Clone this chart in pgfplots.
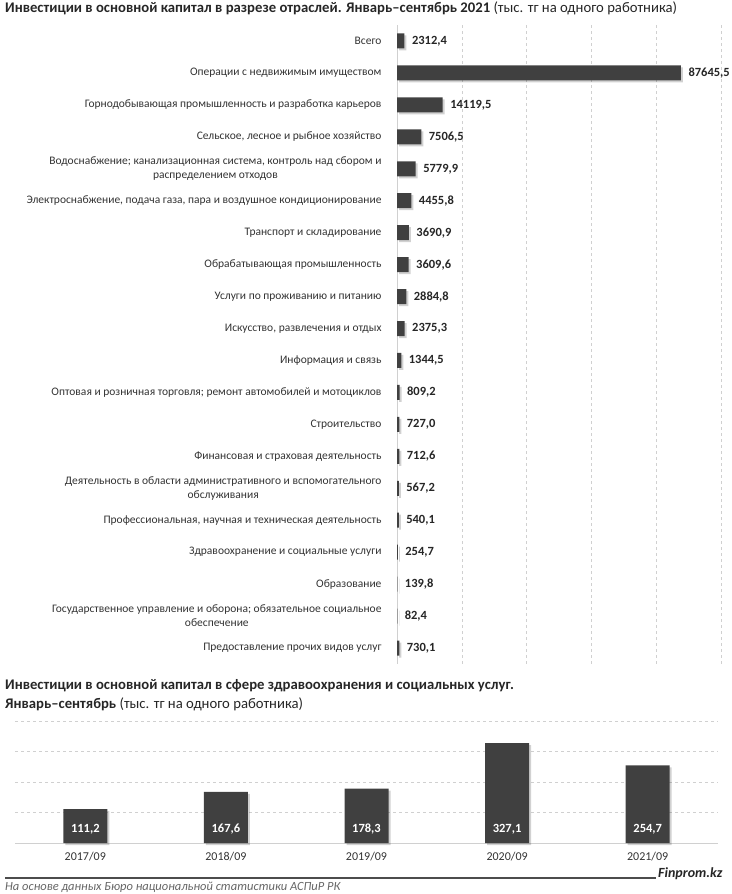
\documentclass[border=0pt]{standalone}
\usepackage{pgfplots}
\pgfplotsset{compat=1.18}
\usepackage{pgfplotstable}
\usepackage{fontspec}
\setmainfont{Carlito}
\usetikzlibrary{shadows}
\definecolor{bar}{HTML}{404040}
\definecolor{txt}{HTML}{262626}
\definecolor{lbl}{HTML}{333333}
\definecolor{grid}{HTML}{D0D0D0}

\pgfplotstableread{
x y lab
2312.4 0 2312,4
87645.5 1 87645,5
14119.5 2 14119,5
7506.5 3 7506,5
5779.9 4 5779,9
4455.8 5 4455,8
3690.9 6 3690,9
3609.6 7 3609,6
2884.8 8 2884,8
2375.3 9 2375,3
1344.5 10 1344,5
809.2 11 809,2
727.0 12 727,0
712.6 13 712,6
567.2 14 567,2
540.1 15 540,1
254.7 16 254,7
139.8 17 139,8
82.4 18 82,4
730.1 19 730,1
}\sectors

\pgfplotstableread{
x y zero lab
0 111.2 0 111,2
1 167.6 0 167,6
2 178.3 0 178,3
3 327.1 0 327,1
4 254.7 0 254,7
}\health

\begin{document}
\begin{tikzpicture}
\path[use as bounding box] (0,0) rectangle (731pt,-894pt);

\node[anchor=west, inner sep=0, font=\fontsize{14.7}{17}\selectfont, text=txt] at (5pt,-8pt)
  {\textbf{Инвестиции в основной капитал в разрезе отраслей. Январь–сентябрь 2021} (тыс. тг на одного работника)};

\begin{axis}[
  at={(397pt,-664pt)}, anchor=south west,
  width=324pt, height=639pt, scale only axis,
  xmin=0, xmax=100000, scaled x ticks=false,
  ymin=-0.5, ymax=19.5, y dir=reverse,
  axis lines*=left,
  x axis line style={draw=none},
  y axis line style={draw=grid, line width=0.8pt},
  xtick={20000,40000,60000,80000,100000}, xticklabels={},
  xmajorgrids, grid style={dashed, draw=grid, line width=0.6pt},
  major tick length=0pt,
  ytick={0,...,19},
  yticklabels={
    {Всего},
    {Операции с недвижимым имуществом},
    {Горнодобывающая промышленность и разработка карьеров},
    {Сельское, лесное и рыбное хозяйство},
    {Водоснабжение; канализационная система, контроль над сбором и\\распределением отходов},
    {Электроснабжение, подача газа, пара и воздушное кондиционирование},
    {Транспорт и складирование},
    {Обрабатывающая промышленность},
    {Услуги по проживанию и питанию},
    {Искусство, развлечения и отдых},
    {Информация и связь},
    {Оптовая и розничная торговля; ремонт автомобилей и мотоциклов},
    {Строительство},
    {Финансовая и страховая деятельность},
    {Деятельность в области административного и вспомогательного\\обслуживания},
    {Профессиональная, научная и техническая деятельность},
    {Здравоохранение и социальные услуги},
    {Образование},
    {Государственное управление и оборона; обязательное социальное\\обеспечение},
    {Предоставление прочих видов услуг}
  },
  yticklabel style={align=center, font=\fontsize{11.5}{14}\selectfont, text=lbl, xshift=-12pt},
  clip=false,
]
\addplot[xbar, bar width=15pt, fill=bar, draw=none,
  drop shadow={shadow xshift=2pt, shadow yshift=-2pt, opacity=0.18, fill=black},
  nodes near coords, point meta=explicit symbolic,
  nodes near coords style={anchor=west, font=\bfseries\fontsize{12.5}{14}\selectfont, text=txt, xshift=4pt}]
  table[x=x, y=y, meta=lab] {\sectors};
\end{axis}

\node[anchor=west, inner sep=0, font=\fontsize{14.7}{17}\selectfont, text=txt] at (5pt,-686pt)
  {\textbf{Инвестиции в основной капитал в сфере здравоохранения и социальных услуг.}};
\node[anchor=west, inner sep=0, font=\fontsize{14.7}{17}\selectfont, text=txt] at (5pt,-704pt)
  {\textbf{Январь–сентябрь} (тыс. тг на одного работника)};

\begin{axis}[
  at={(15pt,-843pt)}, anchor=south west,
  width=703pt, height=122pt, scale only axis,
  xmin=-0.5, xmax=4.5, ymin=0, ymax=400,
  axis lines*=left,
  y axis line style={draw=none},
  x axis line style={draw=grid, line width=0.8pt},
  xtick=data, xticklabels={2017/09,2018/09,2019/09,2020/09,2021/09},
  xticklabel style={font=\fontsize{12}{14}\selectfont, text=lbl, yshift=-6pt},
  ytick={100,200,300,400}, yticklabels={},
  ymajorgrids, grid style={dashed, draw=grid, line width=0.6pt},
  major tick length=0pt,
  clip=false,
]
\addplot[ybar, bar width=44pt, fill=bar, draw=none,
  drop shadow={shadow xshift=2pt, shadow yshift=-2pt, opacity=0.18, fill=black}]
  table[x=x, y=y] {\health};
\addplot[draw=none, mark=none,
  nodes near coords, point meta=explicit symbolic,
  nodes near coords style={anchor=south, font=\bfseries\fontsize{12.5}{14}\selectfont, text=white, yshift=5pt}]
  table[x=x, y=zero, meta=lab] {\health};
\end{axis}

\draw[line width=2pt, black!70] (5pt,-878pt) -- (656pt,-878pt);
\node[anchor=west, inner sep=0, font=\bfseries\itshape\fontsize{14}{16}\selectfont, text=txt] at (658pt,-874pt) {Finprom.kz};
\node[anchor=west, inner sep=0, font=\itshape\fontsize{12.5}{14}\selectfont, text=black!60] at (5pt,-887pt)
  {На основе данных Бюро национальной статистики АСПиР РК};
\end{tikzpicture}
\end{document}
